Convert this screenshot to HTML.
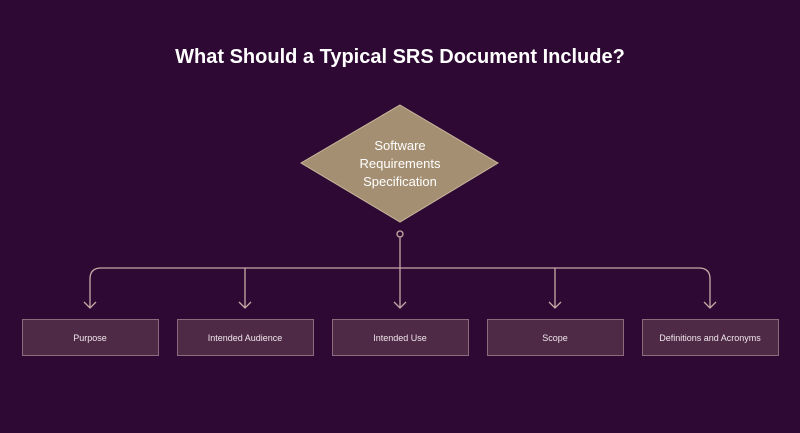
<!DOCTYPE html>
<html><head><style>
body{margin:0;width:800px;height:428px;background:#2d0933;overflow:hidden;font-family:"Liberation Sans",sans-serif}
</style></head><body>
<svg width="800" height="428" xmlns="http://www.w3.org/2000/svg">
<rect width="800" height="428" fill="#2d0933"/>
<text x="400" y="63" fill="#fff" font-size="20" font-weight="bold" text-anchor="middle" font-family="Liberation Sans">What Should a Typical SRS Document Include?</text>
<polygon points="400,105 498,163 400,222 301,163" fill="#a48f72" stroke="#c9b89c" stroke-width="1"/>
<g fill="#fff" font-size="13" text-anchor="middle" font-family="Liberation Sans">
<text x="400" y="150">Software</text>
<text x="400" y="168">Requirements</text>
<text x="400" y="186">Specification</text>
</g>
<g stroke="#c9a9a6" stroke-width="1.3" fill="none">
<circle cx="400" cy="234" r="3"/>
<line x1="400" y1="237" x2="400" y2="308"/>
<path d="M90,308 V279 Q90,268 101,268 H699 Q710,268 710,279 V308"/>
<line x1="245" y1="268" x2="245" y2="308"/>
<line x1="555" y1="268" x2="555" y2="308"/>
<path d="M84,302 L90,308 L96,302 M239,302 L245,308 L251,302 M394,302 L400,308 L406,302 M549,302 L555,308 L561,302 M704,302 L710,308 L716,302"/>
</g>
<g fill="#4e2a47" stroke="#8c6c7c" stroke-width="1">
<rect x="22.5" y="319.5" width="136" height="36"/>
<rect x="177.5" y="319.5" width="136" height="36"/>
<rect x="332.5" y="319.5" width="136" height="36"/>
<rect x="487.5" y="319.5" width="136" height="36"/>
<rect x="642.5" y="319.5" width="136" height="36"/>
</g>
<g fill="#f0e6ea" font-size="9" text-anchor="middle" font-family="Liberation Sans">
<text x="90" y="341">Purpose</text>
<text x="245" y="341">Intended Audience</text>
<text x="400" y="341">Intended Use</text>
<text x="555" y="341">Scope</text>
<text x="710" y="341">Definitions and Acronyms</text>
</g>
</svg>
</body></html>
